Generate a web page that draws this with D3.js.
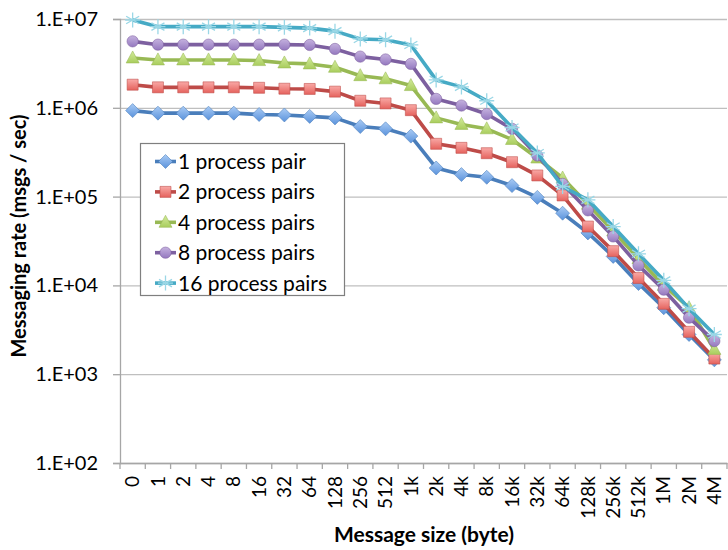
<!DOCTYPE html>
<html>
<head>
<meta charset="utf-8">
<script src="https://cdn.jsdelivr.net/npm/d3@7"></script>
<style>
  body { margin: 0; background: #fff; }
  svg text { font-family: Lato, "Open Sans", sans-serif; fill: #000; }
</style>
</head>
<body>
<div id="chart1"></div>
<script>
var width = 728;
var height = 550;

// ranges of the plot area
var rangeX = [120, 727];
var rangeY = [463, 19];

// message sizes (x categories)
var sizes = ["0", "1", "2", "4", "8", "16", "32", "64", "128", "256", "512",
  "1k", "2k", "4k", "8k", "16k", "32k", "64k", "128k", "256k", "512k", "1M", "2M", "4M"];

// messaging rate (msgs / sec)
var pair1 = [9.3e5, 8.7e5, 8.7e5, 8.7e5, 8.7e5, 8.4e5, 8.3e5, 8.0e5, 7.7e5, 6.15e5, 5.8e5,
  4.8e5, 2.1e5, 1.77e5, 1.65e5, 1.33e5, 9.8e4, 6.5e4, 3.9e4, 2.12e4, 1.05e4, 5.6e3, 2.8e3, 1.45e3];
var pair2 = [1.82e6, 1.7e6, 1.7e6, 1.7e6, 1.7e6, 1.68e6, 1.64e6, 1.63e6, 1.52e6, 1.2e6, 1.12e6,
  9.4e5, 3.93e5, 3.54e5, 3.08e5, 2.44e5, 1.73e5, 1.03e5, 4.6e4, 2.43e4, 1.21e4, 6.2e3, 3.0e3, 1.5e3];
var pair4 = [3.64e6, 3.46e6, 3.46e6, 3.46e6, 3.46e6, 3.4e6, 3.2e6, 3.12e6, 2.86e6, 2.3e6, 2.12e6,
  1.78e6, 7.7e5, 6.5e5, 5.8e5, 4.4e5, 2.72e5, 1.62e5, 8.2e4, 4.1e4, 2.0e4, 1.0e4, 5.6e3, 1.9e3];
var pair8 = [5.6e6, 5.14e6, 5.14e6, 5.14e6, 5.14e6, 5.14e6, 5.14e6, 5.1e6, 4.6e6, 3.77e6, 3.5e6,
  3.12e6, 1.26e6, 1.06e6, 8.5e5, 5.8e5, 2.9e5, 1.39e5, 7.0e4, 3.56e4, 1.68e4, 8.95e3, 4.33e3, 2.36e3];
var pair16 = [9.75e6, 8.2e6, 8.2e6, 8.2e6, 8.2e6, 8.2e6, 8.05e6, 7.9e6, 7.3e6, 5.96e6, 5.85e6,
  5.1e6, 2.06e6, 1.72e6, 1.2e6, 6.0e5, 3.1e5, 1.3e5, 9.2e4, 4.6e4, 2.27e4, 1.14e4, 5.47e3, 2.8e3];

var seriesNames = ["1 process pair", "2 process pairs", "4 process pairs", "8 process pairs", "16 process pairs"];
var yTicks = [1e2, 1e3, 1e4, 1e5, 1e6, 1e7];

var seriesValues = [pair1, pair2, pair4, pair8, pair16];
var markers = ["diamond", "square", "triangle", "circle", "star"];
var lineColors = ["#4a7ebb", "#be4b48", "#98b954", "#7d60a0", "#46aac5"];
var fillTop = ["#a9cbf5", "#f9a9a6", "#d3eb9c", "#c5b2df", "#9ad7e6"];
var fillBottom = ["#5b93dc", "#e5625d", "#a9cd5d", "#9478bf", "#4bacc6"];

var svg = d3.select("#chart1")
  .append("svg")
  .attr("width", width)
  .attr("height", height);

// gradients for the marker fills
var defs = svg.append("defs");
lineColors.forEach(function (c, i) {
  var g = defs.append("linearGradient")
    .attr("id", "grad" + i)
    .attr("x1", 0).attr("y1", 0).attr("x2", 0).attr("y2", 1);
  g.append("stop").attr("offset", "0%").attr("stop-color", fillTop[i]);
  g.append("stop").attr("offset", "100%").attr("stop-color", fillBottom[i]);
});

var xScale = d3.scaleBand().domain(sizes).range(rangeX).padding(0);
var yScale = d3.scaleLog().domain([1e2, 1e7]).range(rangeY);

// horizontal gridlines
svg.append("g")
  .attr("transform", "translate(" + rangeX[0] + ",0)")
  .call(d3.axisLeft(yScale).tickValues(yTicks).tickSize(-(rangeX[1] - rangeX[0])).tickFormat(""))
  .call(function (g) { g.select(".domain").remove(); })
  .selectAll("line")
  .attr("stroke", "#bfbfbf")
  .attr("stroke-width", 1.3);

// y axis
var yAxis = svg.append("g")
  .attr("transform", "translate(" + rangeX[0] + ",0)")
  .call(d3.axisLeft(yScale).tickValues(yTicks).tickSize(7).tickPadding(15)
    .tickFormat(function (d) { return "1.E+0" + Math.round(Math.log10(d)); }));
yAxis.select(".domain").attr("stroke", "#a6a6a6").attr("stroke-width", 1.3);
yAxis.selectAll("line").attr("stroke", "#a6a6a6").attr("stroke-width", 1.3);
yAxis.selectAll("text").attr("font-size", "20px").attr("font-family", "Lato, sans-serif").attr("fill", "#000");

// x axis: labels at band centres, ticks at band edges
var xAxis = svg.append("g")
  .attr("transform", "translate(0," + rangeY[0] + ")")
  .call(d3.axisBottom(xScale).tickSize(0).tickPadding(0));
xAxis.select(".domain").attr("stroke", "#a6a6a6").attr("stroke-width", 1.3);
xAxis.selectAll("text")
  .attr("font-size", "19px")
  .attr("font-family", "Lato, sans-serif")
  .attr("fill", "#000")
  .attr("text-anchor", "end")
  .attr("transform", "translate(0,13)rotate(-90)")
  .attr("x", 0)
  .attr("y", 0)
  .attr("dy", "0.35em");

var edges = d3.range(sizes.length + 1);
xAxis.selectAll(".edge")
  .data(edges)
  .enter()
  .append("line")
  .attr("class", "edge")
  .attr("x1", function (i) { return rangeX[0] + i * xScale.step(); })
  .attr("x2", function (i) { return rangeX[0] + i * xScale.step(); })
  .attr("y1", 0)
  .attr("y2", 6)
  .attr("stroke", "#a6a6a6")
  .attr("stroke-width", 1.3);

// marker shapes
function markerPath(type) {
  if (type == "diamond") return "M0,-7L7,0L0,7L-7,0Z";
  if (type == "square") return "M-5.5,-5.5H5.5V5.5H-5.5Z";
  if (type == "triangle") return "M0,-7L6.5,5H-6.5Z";
  if (type == "circle") return d3.symbol().type(d3.symbolCircle).size(100)();
  return "M0,-7.5V7.5M-6.5,-3.75L6.5,3.75M-6.5,3.75L6.5,-3.75M-7.5,0H7.5";
}

function drawMarker(sel, i) {
  var p = sel.append("path").attr("d", markerPath(markers[i]));
  if (markers[i] == "star") {
    p.attr("fill", "none").attr("stroke", fillTop[i]).attr("stroke-width", 1.3);
  } else {
    p.attr("fill", "url(#grad" + i + ")").attr("stroke", lineColors[i]).attr("stroke-width", 0.8).attr("stroke-opacity", 0.7);
  }
}

var line = d3.line()
  .x(function (d) { return xScale(d.size) + xScale.bandwidth() / 2; })
  .y(function (d) { return yScale(d.value); });

// series, first drawn first so 16 pairs is on top
seriesValues.forEach(function (vals, i) {
  var data = vals.map(function (v, k) { return { size: sizes[k], value: v }; });
  var g = svg.append("g").attr("class", "series");
  g.append("path")
    .datum(data)
    .attr("d", line)
    .attr("fill", "none")
    .attr("stroke", lineColors[i])
    .attr("stroke-width", 3.6)
    .attr("stroke-linejoin", "round");
  g.selectAll(".pt")
    .data(data)
    .enter()
    .append("g")
    .attr("class", "pt")
    .attr("transform", function (d) {
      return "translate(" + (xScale(d.size) + xScale.bandwidth() / 2) + "," + yScale(d.value) + ")";
    })
    .each(function () { drawMarker(d3.select(this), i); });
});

// legend
var legend = svg.append("g");
legend.append("rect")
  .attr("x", 140.5)
  .attr("y", 143.5)
  .attr("width", 204)
  .attr("height", 152)
  .attr("fill", "#fff")
  .attr("stroke", "#7f7f7f")
  .attr("stroke-width", 1.2);

seriesNames.forEach(function (name, i) {
  var row = legend.append("g").attr("transform", "translate(0," + (161.5 + i * 30.4) + ")");
  row.append("line")
    .attr("x1", 155).attr("x2", 176)
    .attr("y1", 0).attr("y2", 0)
    .attr("stroke", lineColors[i])
    .attr("stroke-width", 3.6);
  var m = row.append("g").attr("transform", "translate(165.5,0)");
  drawMarker(m, i);
  row.append("text")
    .attr("x", 178)
    .attr("y", 0)
    .attr("dy", "0.36em")
    .attr("font-size", "21px")
    .text(name);
});

// axis titles
svg.append("text")
  .attr("x", 424)
  .attr("y", 542)
  .attr("text-anchor", "middle")
  .attr("font-size", "21px")
  .attr("font-weight", "bold")
  .text("Message size (byte)");

svg.append("text")
  .attr("transform", "translate(26,236)rotate(-90)")
  .attr("text-anchor", "middle")
  .attr("font-size", "20px")
  .attr("font-weight", "bold")
  .text("Messaging rate (msgs / sec)");
</script>
</body>
</html>
